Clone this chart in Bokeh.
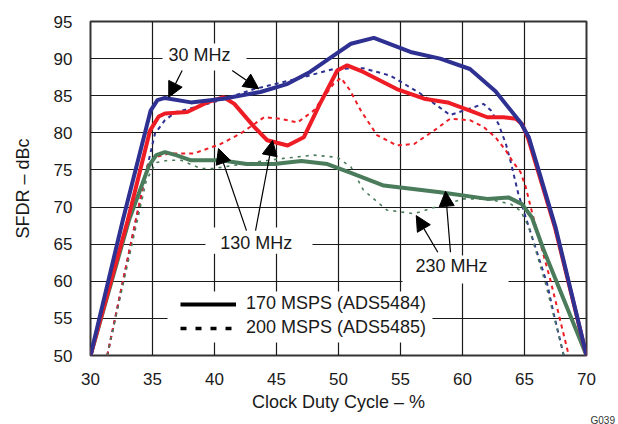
from bokeh.plotting import figure
from bokeh.models import (Range1d, FixedTicker, BoxAnnotation, Label, Arrow, NormalHead,
                          Legend, LegendItem, Title)
from bokeh.embed import file_html
from bokeh.resources import INLINE

# ---------------- data ----------------
blue_170_x = [30, 32.6, 34.85, 35.4, 36.0, 38.1, 40.7, 43.7, 45.9, 47.7, 49.6, 51.0, 52.85,
              55.8, 58.2, 60.6, 62.66, 64.68, 65.35, 66.15, 67.5, 70]
blue_170_y = [50, 68.2, 83.0, 84.4, 84.7, 84.1, 84.6, 85.5, 86.6, 88.2, 90.4, 92.0, 92.8,
              90.9, 90.0, 88.6, 85.6, 81.4, 79.4, 74.9, 67.3, 50]

red_170_x = [30, 33.0, 34.8, 35.5, 36.0, 37.8, 39.4, 40.75, 41.6, 43.2, 44.25, 45.9, 47.2,
             48.5, 49.9, 50.7, 52.0, 54.7, 56.9, 58.8, 60.6, 62.0, 63.3, 64.3, 64.8, 65.3,
             66.1, 67.45, 70]
red_170_y = [50, 68.2, 80.3, 82.2, 82.6, 82.8, 84.1, 84.8, 83.9, 80.8, 79.0, 78.3, 79.4,
             83.9, 88.4, 89.1, 88.2, 85.9, 84.6, 84.1, 83.0, 82.1, 82.1, 81.9, 81.2, 79.2,
             74.8, 67.3, 50]

green_170_x = [30, 33.1, 34.7, 35.3, 36.0, 36.9, 38.1, 40.5, 42.6, 44.8, 47.0, 49.1, 51.0,
               53.65, 58.2, 62.0, 63.7, 64.8, 65.6, 66.55, 68.2, 70]
green_170_y = [50, 68.2, 75.5, 77.0, 77.4, 77.0, 76.3, 76.3, 75.8, 75.8, 76.2, 75.8, 74.6,
               72.9, 72.0, 71.1, 71.3, 70.4, 68.6, 64.2, 57.4, 50]

blue_200_x = [31.35, 33.6, 34.7, 35.2, 36.0, 36.9, 39.9, 43.2, 46.7, 49.6, 52.0, 54.2, 56.6,
              59.0, 60.1, 61.7, 62.3, 62.9, 63.5, 63.9, 64.5, 65.1, 66.83, 67.36, 68.17]
blue_200_y = [50, 67.8, 76.3, 79.9, 81.7, 82.8, 84.1, 85.9, 87.3, 88.6, 88.7, 87.7, 85.3,
              82.4, 83.0, 83.9, 83.0, 81.2, 78.5, 76.0, 71.8, 68.6, 59.65, 55.6, 50]

red_200_x = [31.35, 33.6, 34.6, 35.2, 36.3, 38.3, 40.5, 42.1, 44.0, 45.3, 46.7, 48.0, 49.6,
             50.2, 50.9, 51.8, 53.1, 54.7, 56.1, 57.7, 59.0, 60.6, 61.7, 62.66, 63.5, 64.1,
             64.68, 65.1, 65.5, 66.0, 67.1, 68.57]
red_200_y = [50, 67.8, 75.6, 76.7, 77.2, 77.2, 78.5, 79.9, 82.1, 81.9, 81.4, 83.0, 86.6,
             87.4, 85.8, 83.0, 79.7, 78.3, 78.5, 80.3, 81.9, 81.7, 80.8, 79.4, 77.6, 76.0,
             74.7, 72.7, 70.0, 66.8, 60.1, 50]

green_200_x = [31.35, 34.5, 35.3, 36.3, 37.3, 38.9, 40.0, 41.5, 43.5, 45.3, 48.0, 49.9, 51.0,
               52.0, 53.9, 56.1, 58.2, 60.1, 62.0, 63.9, 64.68, 65.35, 66.7, 68.17]
green_200_y = [50, 73.6, 76.0, 76.3, 76.3, 75.2, 75.2, 75.6, 76.1, 76.5, 77.0, 76.7, 75.4,
               72.3, 69.6, 69.1, 70.2, 71.1, 71.1, 70.4, 69.5, 67.3, 59.65, 50]

x_ticks = [30, 35, 40, 45, 50, 55, 60, 65, 70]
y_ticks = [50, 55, 60, 65, 70, 75, 80, 85, 90, 95]
legend_labels = ["170 MSPS (ADS5484)", "200 MSPS (ADS5485)"]

BLUE = "#2E3192"
RED = "#EE1C25"
GREEN = "#4A7C5B"
FONT = "Liberation Sans"

p = figure(frame_width=496, frame_height=334, output_backend="svg", toolbar_location=None,
           x_range=Range1d(30, 70), y_range=Range1d(50, 95),
           min_border_left=90, min_border_right=32, min_border_top=21, min_border_bottom=69)

p.outline_line_color = "#333333"
p.outline_line_width = 2
p.background_fill_color = "white"
p.border_fill_color = "white"

for ax in (p.xaxis[0], p.yaxis[0]):
    ax.axis_line_color = None
    ax.major_tick_line_color = None
    ax.minor_tick_line_color = None
    ax.major_label_text_font = FONT
    ax.major_label_text_font_size = "17px"
    ax.major_label_text_color = "#1a1a1a"
    ax.axis_label_text_font = FONT
    ax.axis_label_text_font_size = "18px"
    ax.axis_label_text_font_style = "normal"
    ax.axis_label_text_color = "#1a1a1a"

p.xaxis.ticker = FixedTicker(ticks=x_ticks)
p.yaxis.ticker = FixedTicker(ticks=y_ticks)
p.xaxis.axis_label = "Clock Duty Cycle – %"
p.yaxis.axis_label = "SFDR – dBc"
p.xaxis.major_label_standoff = 11
p.yaxis.major_label_standoff = 12
p.xaxis.axis_label_standoff = 4
p.yaxis.axis_label_standoff = 18

p.grid.grid_line_color = "#1a1a1a"
p.grid.grid_line_width = 1.2

# white boxes behind labels (cover grid)
boxes = [(35.81, 42.58, 88.40, 92.04),   # 30 MHz
         (39.27, 47.90, 63.70, 67.24),   # 130 MHz
         (55.16, 63.71, 59.69, 63.46),   # 230 MHz
         (36.21, 57.58, 51.74, 58.61)]   # legend
for l, r, b, t in boxes:
    p.add_layout(BoxAnnotation(left=l, right=r, bottom=b, top=t, fill_color="white",
                               fill_alpha=1, line_color=None, level="underlay"))

# dotted series (200 MSPS)
p.line(blue_200_x, blue_200_y, line_color=BLUE, line_width=2, line_dash="4 4")
p.line(red_200_x, red_200_y, line_color=RED, line_width=2, line_dash="4 4")
p.line(green_200_x, green_200_y, line_color=GREEN, line_width=1.6, line_dash="3 5")
# solid series (170 MSPS)
p.line(green_170_x, green_170_y, line_color=GREEN, line_width=4)
p.line(red_170_x, red_170_y, line_color=RED, line_width=4)
p.line(blue_170_x, blue_170_y, line_color=BLUE, line_width=4)

# legend (style-only renderers with no visible points)
nan = float("nan")
leg_solid = p.line([nan], [nan], line_color="black", line_width=4)
leg_dash = p.line([nan], [nan], line_color="black", line_width=3.5, line_dash="6 9")
legend = Legend(items=[LegendItem(label=legend_labels[0], renderers=[leg_solid]),
                       LegendItem(label=legend_labels[1], renderers=[leg_dash])],
                location=(87, 14), glyph_width=56, glyph_height=20, label_height=20,
                label_standoff=10, spacing=3, padding=3, margin=0,
                background_fill_alpha=0, border_line_alpha=0,
                label_text_font=FONT, label_text_font_size="18px",
                label_text_color="#1a1a1a")
p.add_layout(legend)

# annotation labels
for txt, x, y in [("30 MHz", 38.79, 90.51), ("130 MHz", 43.36, 65.15), ("230 MHz", 59.11, 62.0)]:
    p.add_layout(Label(x=x, y=y, text=txt, text_align="center", text_baseline="middle",
                       text_font=FONT, text_font_size="18px", text_color="#1a1a1a"))

arrows = [(37.39, 88.4, 36.31, 84.8), (41.43, 88.4, 43.57, 85.93),
          (42.58, 66.83, 40.32, 77.88), (43.31, 66.83, 44.68, 78.96),
          (58.01, 63.91, 56.27, 68.85), (59.03, 63.91, 58.63, 72.13)]
for xs, ys, xe, ye in arrows:
    p.add_layout(Arrow(x_start=xs, y_start=ys, x_end=xe, y_end=ye, line_color="black",
                       line_width=1.2,
                       end=NormalHead(size=15, fill_color="black", line_color="black",
                                      line_width=1)))

# figure id tag, bottom right (outside the frame)
p.add_layout(Title(text="G039", align="left", offset=500, standoff=0, vertical_align="top",
                   text_font=FONT, text_font_size="10px", text_font_style="normal",
                   text_color="#333333"), "below")

open("out.html", "w").write(file_html(p, INLINE))
